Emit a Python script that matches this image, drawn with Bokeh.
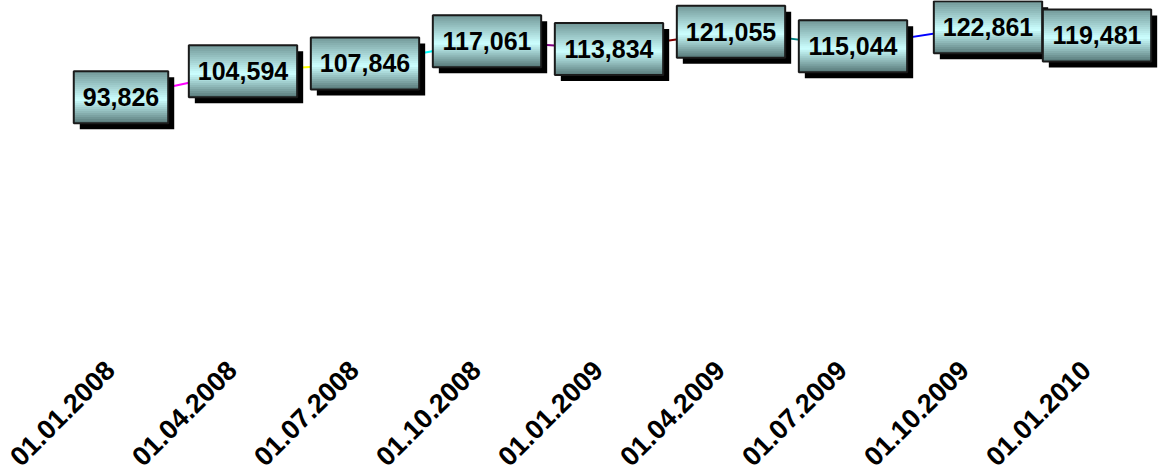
import math
from bokeh.plotting import figure
from bokeh.models import FixedTicker, CustomJSTickFormatter
from bokeh.core.properties import value
from bokeh.embed import file_html
from bokeh.resources import INLINE

# ---- data ----
dates = ["01.01.2008", "01.04.2008", "01.07.2008", "01.10.2008", "01.01.2009",
         "01.04.2009", "01.07.2009", "01.10.2009", "01.01.2010"]
values = [93826, 104594, 107846, 117061, 113834, 121055, 115044, 122861, 119481]
segment_colors = ["#FF00FF", "#FFFF00", "#00FFFF", "#800080", "#800000",
                  "#008080", "#0000FF", "#9999FF"]

# ---- geometry / style ----
FRAME_W, FRAME_H = 1149, 323
LEFT = 10
PX_X = 122.0          # px per category step
PX_Y = 0.002411       # px per value unit
x_start = -(120.5 - LEFT) / PX_X
x_end = x_start + FRAME_W / PX_X
y_end = FRAME_H / PX_Y

FONT = "Liberation Sans"
LABEL_PX = 25
BOX_H = 52
PAD_X = 9
SHADOW = 6
label_dx_px = [0, 0, 0, 0, 0, 0, 0, 13, 0]

p = figure(frame_width=FRAME_W, frame_height=FRAME_H,
           x_range=(x_start, x_end), y_range=(0, y_end),
           output_backend="svg", toolbar_location=None, y_axis_location=None,
           min_border_left=LEFT, min_border_right=0, min_border_top=0,
           min_border_bottom=150)
p.outline_line_color = None
p.grid.visible = False
p.background_fill_color = "white"
p.border_fill_color = "white"

xs = list(range(len(values)))

# line segments, one colour per segment
p.segment(x0=xs[:-1], y0=values[:-1], x1=xs[1:], y1=values[1:],
          line_color=segment_colors, line_width=2)

# label boxes
texts = [f"{v:,}" for v in values]
def text_w(s):
    return LABEL_PX * (0.556 * sum(c.isdigit() for c in s) + 0.278 * s.count(",")) + 2 * PAD_X
widths = [text_w(s) for s in texts]
cx = [x + dx / PX_X for x, dx in zip(xs, label_dx_px)]
cy = list(values)

# shadow
p.rect(x=[c + SHADOW / PX_X for c in cx], y=[v - SHADOW / PX_Y for v in cy],
       width=widths, height=BOX_H, width_units="screen", height_units="screen",
       fill_color="black", line_color=None)

# gradient fill from strips
stops = [(0.0, (0x70, 0x96, 0x96)), (0.55, (0xCC, 0xFF, 0xFF)), (1.0, (0x58, 0x7A, 0x7A))]
def grad(t):
    for (t0, c0), (t1, c1) in zip(stops[:-1], stops[1:]):
        if t0 <= t <= t1:
            f = (t - t0) / (t1 - t0)
            return "#%02x%02x%02x" % tuple(int(round(a + (b - a) * f)) for a, b in zip(c0, c1))
    return "#%02x%02x%02x" % stops[-1][1]

N = 26
step = BOX_H / N
sx, sy, sw, sc = [], [], [], []
for i in range(len(values)):
    for j in range(N):
        off = BOX_H / 2 - (j + 0.5) * step
        sx.append(cx[i]); sy.append(cy[i] + off / PX_Y); sw.append(widths[i])
        sc.append(grad((j + 0.5) / N))
p.rect(x=sx, y=sy, width=sw, height=step + 0.8, width_units="screen",
       height_units="screen", fill_color=sc, line_color=None)

# border
p.rect(x=cx, y=cy, width=widths, height=BOX_H, width_units="screen",
       height_units="screen", fill_alpha=0, line_color="#1a1a1a", line_width=2)

p.text(x=cx, y=cy, text=texts, text_font=value(FONT), text_font_style="bold",
       text_font_size=f"{LABEL_PX}px", text_align="center", text_baseline="middle",
       text_color="black")

# x axis
tick_shift = -11 / PX_X
p.xaxis.ticker = FixedTicker(ticks=[x + tick_shift for x in xs])
p.xaxis.formatter = CustomJSTickFormatter(args=dict(labels=dates, shift=tick_shift),
                                          code="return labels[Math.round(tick - shift)];")
p.xaxis.major_label_orientation = math.pi / 4
p.xaxis.major_label_text_font = FONT
p.xaxis.major_label_text_font_style = "bold"
p.xaxis.major_label_text_font_size = "27px"
p.xaxis.major_label_text_color = "black"
p.xaxis.axis_line_color = None
p.xaxis.major_tick_line_color = None
p.xaxis.minor_tick_line_color = None
p.xaxis.major_tick_out = 0
p.xaxis.major_tick_in = 0
p.xaxis.major_label_standoff = 42

open("out.html", "w").write(file_html(p, INLINE))
